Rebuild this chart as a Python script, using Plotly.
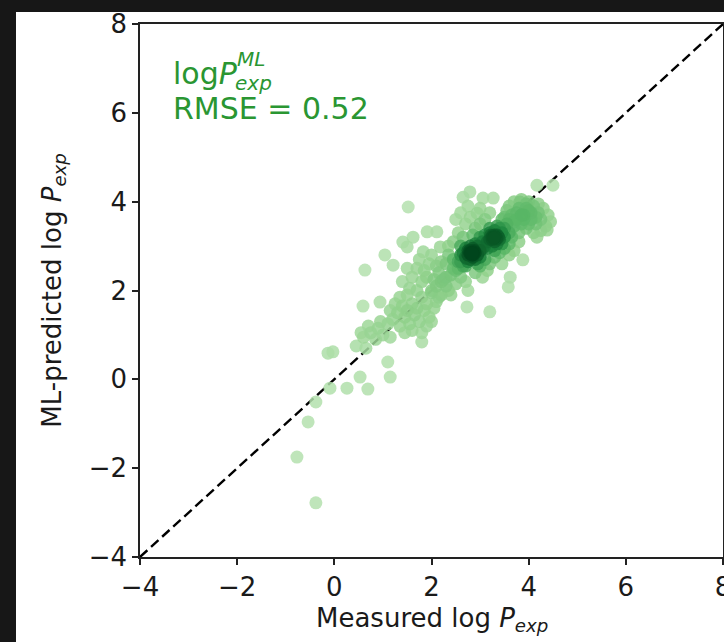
import numpy as np
import plotly.graph_objects as go

# measured vs ML-predicted log P_exp
measured = [
    # isolated points
    1.52, 0.63, 1.04, 1.21, 1.50, 0.59, 0.94, 1.41, 1.62, 1.50, 1.91, 2.11, 2.65, 2.79, 3.06, 3.27,
    4.17, 4.50, 3.88, 3.62, 3.58, 3.20, 2.73, 1.80, 1.10, 1.15, -0.13, -0.03, 0.53, -0.09, 0.26, 0.69,
    -0.38, -0.54, -0.77, -0.38,
    # lower tail
    0.45, 0.60, 0.65, 0.75, 0.85, 0.90, 0.95, 1.00, 1.10, 1.15, 0.70, 0.55,
    # lower-left cluster
    1.20, 1.30, 1.35, 1.40, 1.45, 1.50, 1.55, 1.60, 1.65, 1.70, 1.75, 1.80, 1.85, 1.90, 1.95, 2.00,
    2.05, 1.25, 1.50, 1.70, 1.60, 1.90, 2.10, 1.35, 1.15, 1.45, 2.00, 1.80,
    # middle
    2.10, 2.15, 2.20, 2.25, 2.30, 2.35, 2.40, 2.45, 2.50, 2.55, 2.60, 2.20, 2.30, 2.40, 2.50, 2.10,
    2.05, 2.60, 2.35, 2.20, 2.45, 2.30, 2.55, 2.00, 2.15, 2.65, 1.90, 1.95, 2.70, 2.75,
    # first core
    2.75, 2.80, 2.85, 2.90, 2.80, 2.70, 2.95, 2.85, 2.75, 2.90, 2.80, 2.85, 2.70, 2.95, 2.65, 2.80,
    3.00, 2.90, 2.60, 2.75, 2.85, 2.82, 2.78, 2.88, 2.72, 3.00, 2.60, 2.70, 2.95,
    2.83, 2.81, 2.86, 2.79, 2.84, 2.87,
    # second core
    3.25, 3.30, 3.35, 3.40, 3.20, 3.30, 3.15, 3.35, 3.25, 3.45, 3.30, 3.20, 3.40, 3.10, 3.28, 3.33,
    3.22, 3.38, 3.15, 3.05, 3.50, 3.45, 3.10, 3.20, 3.35, 3.30, 3.00, 3.05,
    3.30, 3.28, 3.32, 3.26, 3.34, 3.30, 3.25, 3.36,
    # upper right band
    3.55, 3.60, 3.65, 3.70, 3.75, 3.80, 3.85, 3.90, 3.95, 4.00, 4.05, 4.10, 4.15, 4.20, 4.25, 4.30,
    4.35, 3.60, 3.70, 3.85, 4.00, 3.50, 3.65, 3.80, 3.95, 4.10, 4.40, 4.20, 3.75, 3.90, 4.05, 3.55,
    3.70, 3.85, 4.00, 4.15, 3.60, 3.95, 4.25, 4.45, 4.38, 4.17, 3.82, 3.50, 3.45,
    # above the cores
    2.50, 2.60, 2.70, 2.80, 2.90, 2.75, 2.55, 2.65, 3.00, 3.10, 3.20, 3.00, 2.45, 2.35, 2.85, 2.94,
    # below the cores
    2.90, 3.00, 3.10, 3.20, 3.30, 3.40, 3.50, 3.15, 3.60, 3.05, 3.45, 3.70, 3.60, 3.80,
    # left of the middle
    1.60, 1.70, 1.80, 1.75, 1.85, 2.00, 1.83, 2.18, 1.40, 1.55,
]
predicted = [
    3.88, 2.46, 2.80, 2.57, 2.50, 1.65, 1.74, 3.09, 3.20, 2.98, 3.32, 3.32, 4.10, 4.22, 4.08, 4.08,
    4.37, 4.37, 2.69, 2.30, 2.08, 1.52, 1.63, 0.84, 0.39, 0.05, 0.59, 0.62, 0.05, -0.20, -0.20, -0.22,
    -0.51, -0.96, -1.75, -2.78,
    0.75, 0.95, 0.70, 1.05, 0.90, 1.15, 1.30, 1.00, 1.25, 0.95, 1.20, 1.05,
    1.35, 1.50, 1.20, 1.65, 1.40, 1.55, 1.25, 1.70, 1.45, 1.60, 1.30, 1.85, 1.55, 1.70, 1.40, 1.95,
    1.60, 1.70, 1.90, 2.00, 1.10, 1.20, 1.75, 1.85, 1.55, 1.05, 1.30, 1.05,
    2.10, 2.40, 1.90, 2.25, 2.60, 2.00, 2.35, 2.70, 2.15, 2.50, 2.80, 2.65, 2.30, 1.90, 2.45, 2.55,
    2.25, 2.30, 2.80, 2.20, 2.50, 2.10, 2.65, 2.00, 1.85, 2.55, 2.30, 2.60, 2.20, 2.00,
    2.80, 2.90, 2.75, 2.85, 2.70, 2.95, 3.00, 2.95, 2.65, 2.70, 2.85, 2.85, 2.75, 2.80, 2.85, 3.00,
    2.90, 3.05, 2.65, 2.90, 2.80, 2.82, 2.88, 2.90, 2.72, 2.75, 3.00, 2.55, 2.60,
    2.84, 2.86, 2.82, 2.83, 2.80, 2.87,
    3.20, 3.10, 3.25, 3.15, 3.30, 3.35, 3.10, 3.05, 3.00, 3.30, 3.20, 3.15, 3.40, 3.25, 3.22, 3.18,
    3.25, 3.20, 2.95, 3.10, 3.20, 3.05, 3.00, 3.40, 3.45, 2.90, 3.20, 2.95,
    3.20, 3.18, 3.22, 3.24, 3.16, 3.25, 3.15, 3.22,
    3.50, 3.30, 3.70, 3.45, 3.60, 3.85, 3.50, 3.70, 3.40, 3.80, 3.60, 3.90, 3.50, 3.75, 3.60, 3.85,
    3.45, 3.90, 4.00, 4.05, 4.00, 3.65, 3.20, 3.30, 3.95, 3.30, 3.70, 3.95, 3.75, 3.60, 3.75, 3.80,
    3.55, 3.70, 3.50, 3.65, 3.60, 3.85, 3.35, 3.55, 3.36, 3.20, 3.99, 3.40, 3.60,
    3.60, 3.75, 3.50, 3.65, 3.40, 3.90, 3.30, 3.20, 3.50, 3.60, 3.75, 3.85, 3.10, 3.00, 3.25, 3.74,
    2.40, 2.55, 2.70, 2.60, 2.75, 2.85, 2.95, 2.45, 2.80, 2.30, 2.60, 2.90, 3.05, 3.10,
    2.30, 2.50, 2.20, 2.70, 2.45, 2.80, 2.87, 2.98, 2.20, 2.05,
]
ticks = [-4, -2, 0, 2, 4, 6, 8]
rmse_text = "RMSE = 0.52"

x = np.array(measured)
y = np.array(predicted)

# point density sets the colour, densest points drawn last
d2 = (x[:, None] - x[None, :]) ** 2 + (y[:, None] - y[None, :]) ** 2
dens = np.exp(-d2 / (2 * 0.2 ** 2)).sum(axis=1) ** 0.7
order = np.argsort(dens)
x, y, dens = x[order], y[order], dens[order]

greens = [
    [0.0, '#b4e1ae'],
    [0.3, '#8fd08a'],
    [0.55, '#5ab766'],
    [0.8, '#1f8a40'],
    [1.0, '#00451c'],
]

fig = go.Figure()

fig.add_trace(go.Scatter(
    x=[ticks[0], ticks[-1]], y=[ticks[0], ticks[-1]],
    mode='lines', line=dict(color='black', width=2.4, dash='10px,5px'),
    hoverinfo='skip', showlegend=False,
))

fig.add_trace(go.Scatter(
    x=x, y=y, mode='markers', showlegend=False,
    marker=dict(size=13, color=dens, colorscale=greens, opacity=0.85,
                line=dict(width=0)),
))

# white figure area inside the dark frame
fig.add_shape(type='rect', xref='paper', yref='paper', layer='below',
              x0=-0.2127, x1=1.01, y0=-0.17, y1=1.0225,
              fillcolor='white', line=dict(width=0))

green = '#2a9632'
ann = [
    dict(text='log<i>P</i>', x=0.053, y=0.907, size=30),
    dict(text='<i>ML</i>', x=0.163, y=0.934, size=20),
    dict(text='<i>exp</i>', x=0.160, y=0.889, size=20),
    dict(text=rmse_text, x=0.053, y=0.842, size=30),
]
for a in ann:
    fig.add_annotation(text=a['text'], x=a['x'], y=a['y'], xref='paper', yref='paper',
                       xanchor='left', yanchor='middle', showarrow=False,
                       font=dict(size=a['size'], color=green))

fig.add_annotation(text='Measured log <i>P</i><sub><i>exp</i></sub>', x=0.5, y=-0.118,
                   xref='paper', yref='paper', showarrow=False, yanchor='middle',
                   font=dict(size=26, color='#1a1a1a'))
fig.add_annotation(text='ML-predicted log <i>P</i><sub><i>exp</i></sub>', x=-0.149, y=0.5,
                   xref='paper', yref='paper', showarrow=False, textangle=-90,
                   xanchor='center', font=dict(size=26, color='#1a1a1a'))

axis_style = dict(
    range=[ticks[0], ticks[-1]], tickvals=ticks, ticktext=[str(t).replace('-', '\u2212') for t in ticks],
    showgrid=False, zeroline=False, showline=True, mirror=True,
    ticklabeloverflow='allow', automargin=False,
    linecolor='#222222', linewidth=1.5, ticks='outside', ticklen=6, tickwidth=1.5,
    tickcolor='#222222', tickfont=dict(size=26, color='#1a1a1a'),
)
fig.update_xaxes(**axis_style)
fig.update_yaxes(**axis_style)

fig.update_layout(
    width=724, height=642,
    margin=dict(l=140, r=1, t=24, b=85),
    paper_bgcolor='#171717', plot_bgcolor='white',
    font=dict(family='DejaVu Sans'),
)

fig.write_html("out.html", config={'displayModeBar': False},
               post_script="document.body.style.margin='0';")
